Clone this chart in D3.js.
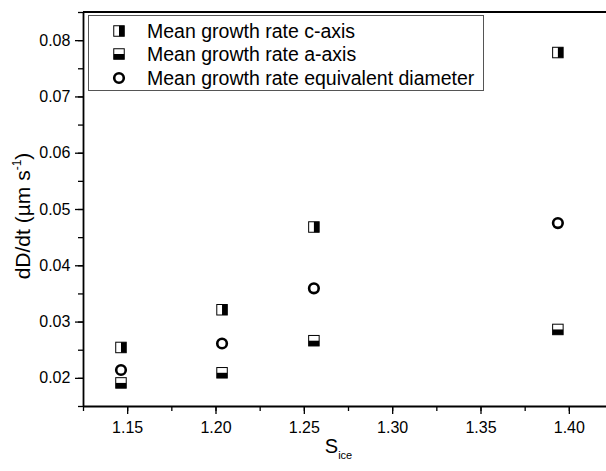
<!DOCTYPE html>
<html>
<head>
<meta charset="utf-8">
<script src="https://cdn.jsdelivr.net/npm/d3@7"></script>
<style>
  body { margin: 0; background: #fff; }
  text { font-family: "Liberation Sans", Arial, sans-serif; fill: #000; }
</style>
</head>
<body>
<div id="chart"></div>
<script>
// data
var sIce = [1.1465, 1.2037, 1.2557, 1.3938];
var cAxis = [0.0254, 0.0321, 0.0468, 0.0778];
var aAxis = [0.0191, 0.0209, 0.0266, 0.0286];
var eqDiam = [0.0214, 0.0261, 0.0359, 0.0475];
var xTicks = [1.15, 1.20, 1.25, 1.30, 1.35, 1.40];
var yTicks = [0.02, 0.03, 0.04, 0.05, 0.06, 0.07, 0.08];
var legendLabels = ["Mean growth rate c-axis", "Mean growth rate a-axis", "Mean growth rate equivalent diameter"];

var width = 606, height = 471;
var svg = d3.select("#chart").append("svg")
    .attr("width", width)
    .attr("height", height);

// plot spans past the right edge, the original is cropped there
var x = d3.scaleLinear().domain([1.125, 1.425]).range([83, 613]);
var y = d3.scaleLinear().domain([0.015, 0.085]).range([406, 12]);

//minor ticks halfway between majors
var xMinor = d3.range(1.125, 1.426, 0.025);
var yMinor = d3.range(0.015, 0.0851, 0.005);

var xAxis = svg.append("g")
    .attr("transform", "translate(0," + y(0.015) + ")")
    .call(d3.axisBottom(x).tickValues(xMinor).tickSize(5).tickFormat(""));
xAxis.selectAll("path").remove();
xAxis.selectAll("line").attr("stroke-width", 1.3);

var xMajor = svg.append("g")
    .attr("transform", "translate(0," + y(0.015) + ")")
    .call(d3.axisBottom(x).tickValues(xTicks).tickSize(8).tickSizeOuter(0).tickFormat(d3.format(".2f")));
xMajor.select("path").attr("stroke-width", 1.8);
xMajor.selectAll("line").attr("stroke-width", 1.3);
xMajor.selectAll("text").attr("font-size", 16).attr("dy", "1.0em")
    .style("font-family", "Liberation Sans, Arial, sans-serif").attr("fill", "#222");

var yMin = svg.append("g")
    .attr("transform", "translate(" + x(1.125) + ",0)")
    .call(d3.axisLeft(y).tickValues(yMinor).tickSize(5).tickFormat(""));
yMin.selectAll("path").remove();
yMin.selectAll("line").attr("stroke-width", 1.3);

var yMajor = svg.append("g")
    .attr("transform", "translate(" + x(1.125) + ",0)")
    .call(d3.axisLeft(y).tickValues(yTicks).tickSize(8).tickSizeOuter(0).tickFormat(d3.format(".2f")));
yMajor.select("path").attr("stroke-width", 1.8);
yMajor.selectAll("line").attr("stroke-width", 1.3);
yMajor.selectAll("text").attr("font-size", 16).attr("dx", "-0.1em")
    .style("font-family", "Liberation Sans, Arial, sans-serif").attr("fill", "#222");

// top frame line
svg.append("line")
    .attr("x1", x(1.125)).attr("x2", x(1.425))
    .attr("y1", y(0.085)).attr("y2", y(0.085))
    .attr("stroke", "#000").attr("stroke-width", 1.8);

// axis titles
var xt = svg.append("text")
    .attr("x", (x(1.125) + 606) / 2 - 6)
    .attr("y", 453)
    .attr("text-anchor", "middle")
    .attr("font-size", 20);
xt.append("tspan").text("S");
xt.append("tspan").attr("font-size", 11).attr("dy", 6).text("ice");

var yt = svg.append("text")
    .attr("transform", "translate(30,216) rotate(-90)")
    .attr("text-anchor", "middle")
    .attr("font-size", 21);
yt.append("tspan").text("dD/dt (\u00b5m s");
yt.append("tspan").attr("font-size", 12).attr("dy", -9).text("-1");
yt.append("tspan").attr("dy", 9).text(")");

var sq = 10.5;

function halfSquare(g, cx, cy, vertical) {
    g.append("rect")
        .attr("x", cx - sq / 2).attr("y", cy - sq / 2)
        .attr("width", sq).attr("height", sq)
        .attr("fill", "#fff").attr("stroke", "none");
    if (vertical) {
        g.append("rect")
            .attr("x", cx).attr("y", cy - sq / 2)
            .attr("width", sq / 2).attr("height", sq)
            .attr("fill", "#000");
    } else {
        g.append("rect")
            .attr("x", cx - sq / 2).attr("y", cy)
            .attr("width", sq).attr("height", sq / 2)
            .attr("fill", "#000");
    }
    g.append("rect")
        .attr("x", cx - sq / 2).attr("y", cy - sq / 2)
        .attr("width", sq).attr("height", sq)
        .attr("fill", "none").attr("stroke", "#000").attr("stroke-width", 1);
}

function circleMark(g, cx, cy) {
    g.append("circle")
        .attr("cx", cx).attr("cy", cy).attr("r", 4.8)
        .attr("fill", "#fff").attr("stroke", "#000").attr("stroke-width", 2.6);
}

var marks = svg.append("g");
sIce.forEach(function (s, i) {
    halfSquare(marks, x(s), y(cAxis[i]), true);
    halfSquare(marks, x(s), y(aAxis[i]), false);
    circleMark(marks, x(s), y(eqDiam[i]));
});

// legend
var legend = svg.append("g");
legend.append("rect")
    .attr("x", 88.5).attr("y", 15.5)
    .attr("width", 395).attr("height", 75)
    .attr("fill", "#fff").attr("stroke", "#555").attr("stroke-width", 1);

var rowY = [31, 54, 78];
halfSquare(legend, 119, rowY[0], true);
halfSquare(legend, 119, rowY[1], false);
circleMark(legend, 119, rowY[2]);

legend.selectAll("text.lab").data(legendLabels).enter()
    .append("text")
    .attr("class", "lab")
    .attr("x", 147)
    .attr("y", function (d, i) { return rowY[i] + 7; })
    .attr("font-size", 19.5)
    .text(function (d) { return d; });
</script>
</body>
</html>
